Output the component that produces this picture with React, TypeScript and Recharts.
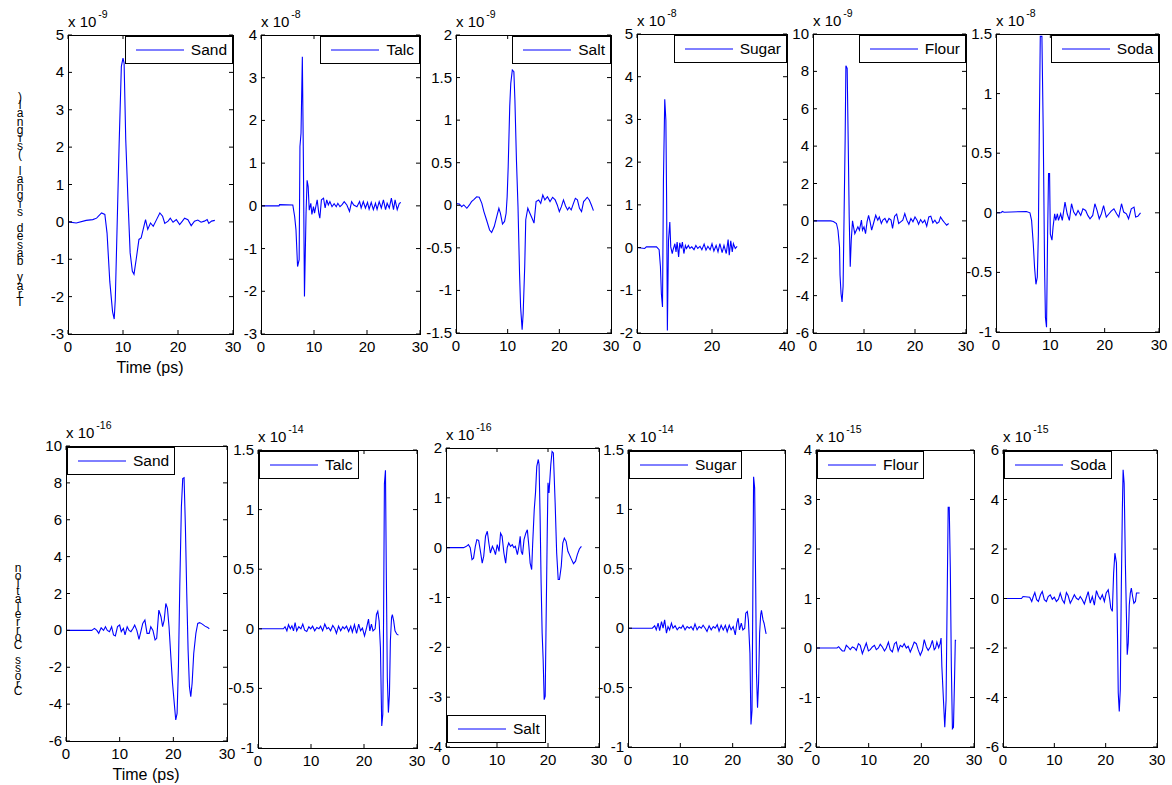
import React from 'react';
import { LineChart, Line, XAxis, YAxis } from 'recharts';

type P = [number, number][];

// ---------- data (time in ps, value in units of the panel's exponent) ----------
const sandSignal: P = [[0,0],[1.5,-0.03],[3.3,0.04],[4.5,0.06],[5.2,0.1],[6.1,0.24],[6.7,0.2],[7.1,-0.3],[7.6,-1.6],[8.1,-2.4],[8.4,-2.6],[8.6,-2.07],[8.9,-0.3],[9.3,2.1],[9.7,4.16],[10.0,4.38],[10.2,4.25],[10.5,2.2],[10.9,0.6],[11.3,-0.83],[11.7,-1.32],[12.0,-1.4],[12.4,-1.0],[12.9,-0.47],[13.3,-0.43],[13.8,-0.12],[14.1,0.06],[14.5,-0.2],[15.0,-0.03],[15.5,-0.12],[16.1,0.06],[16.7,0.24],[17.2,0.15],[17.6,-0.04],[18.2,0.02],[18.6,0.1],[19.1,-0.01],[19.7,0.06],[20.3,-0.07],[20.8,0.02],[21.2,0.1],[21.8,0.06],[22.4,-0.1],[23.0,0.02],[23.6,0.05],[24.2,-0.01],[24.8,0.02],[25.3,0.06],[25.6,-0.04],[26.1,0.02],[26.7,0.04]];
const talcSignal: P = [[0,0],[3.4,0],[3.5,0.03],[6.0,0.02],[6.35,-0.25],[6.6,-0.56],[6.9,-1.42],[7.2,-1.26],[7.35,1.39],[7.55,1.7],[7.8,3.49],[8.0,1.07],[8.2,-2.12],[8.5,-0.17],[8.7,0.6],[8.9,0.45],[9.1,-0.1],[9.4,0.06],[9.6,-0.2],[9.9,-0.02],[10.1,-0.17],[10.4,0.02],[10.6,0.14],[10.9,-0.17],[11.1,-0.29],[11.4,0.14],[11.8,0.18],[12.1,-0.05],[12.4,0.14],[12.7,0.02],[13.0,0.1],[13.4,-0.02],[13.8,0.05],[14.2,-0.02],[14.5,0.06],[14.9,-0.02],[15.3,0.03],[15.7,0.1],[16.2,0.02],[16.7,-0.13],[17.1,0.1],[17.5,0.02],[18.1,-0.02],[18.6,0.1],[18.9,-0.05],[19.3,0.1],[19.7,-0.05],[20.1,0.08],[20.4,-0.08],[20.8,0.08],[21.2,-0.09],[21.6,0.06],[21.9,-0.08],[22.3,0.1],[22.7,-0.05],[23.1,0.14],[23.5,-0.09],[23.8,0.06],[24.2,-0.05],[24.6,0.18],[25.0,-0.09],[25.3,0.14],[25.7,-0.09],[26.1,0.06],[26.4,0.08]];
const saltSignal: P = [[0,0.02],[0.65,0.016],[1.1,-0.016],[1.5,0.004],[2.1,-0.035],[2.6,0.004],[3.0,0.043],[3.5,0.07],[4.0,0.1],[4.5,0.094],[5.0,0.023],[5.4,-0.074],[5.9,-0.17],[6.5,-0.29],[6.9,-0.32],[7.4,-0.25],[7.9,-0.13],[8.3,-0.035],[8.6,-0.094],[9.0,-0.22],[9.4,-0.19],[9.7,-0.094],[9.9,0.1],[10.1,0.45],[10.4,1.16],[10.6,1.43],[10.9,1.59],[11.2,1.57],[11.4,1.24],[11.7,0.53],[12.0,-0.016],[12.3,-0.8],[12.5,-1.19],[12.8,-1.46],[13.0,-1.27],[13.3,-0.72],[13.5,-0.17],[13.9,-0.035],[14.3,-0.094],[14.7,-0.15],[15.1,-0.21],[15.5,0.043],[16.0,0.063],[16.4,0.023],[16.8,0.12],[17.2,0.063],[17.7,0.1],[18.2,0.043],[18.7,0.094],[19.2,0.063],[19.6,0.004],[20.0,-0.074],[20.4,-0.016],[20.8,0.063],[21.2,-0.008],[21.6,-0.055],[21.9,-0.023],[22.3,-0.055],[22.7,0.016],[23.1,0.082],[23.5,0.063],[23.9,-0.035],[24.3,-0.074],[24.7,0.043],[25.0,0.063],[25.4,0.094],[25.8,0.063],[26.2,0.004],[26.6,-0.063]];
const sugarSignal: P = [[0,0],[2.05,-0.02],[2.5,0.016],[5.2,0.016],[5.9,-0.05],[6.25,-0.45],[6.5,-1.08],[6.8,-1.39],[7.05,1.58],[7.4,3.47],[7.7,2.98],[7.9,1.1],[8.1,-1.94],[8.4,0.17],[8.75,0.6],[9.0,0.016],[9.4,-0.14],[9.6,-0.06],[10.1,0.09],[10.4,-0.1],[10.7,0.13],[11.1,-0.22],[11.4,0.11],[11.8,-0.02],[12.1,0.13],[12.5,-0.14],[12.9,0.05],[13.2,-0.02],[13.7,0.05],[14.1,-0.02],[14.6,0.016],[15.2,-0.05],[15.7,0.05],[16.2,-0.02],[16.8,0.03],[17.3,-0.05],[17.9,0.08],[18.4,-0.06],[18.9,0.03],[19.5,-0.05],[20.0,0.09],[20.5,-0.08],[21.1,0.05],[21.6,-0.1],[22.1,0.09],[22.7,-0.12],[23.2,0.05],[23.8,-0.14],[24.3,0.19],[24.6,-0.18],[25.0,0.16],[25.4,-0.1],[25.7,0.09],[26.2,-0.02],[26.7,0.03]];
const flourSignal: P = [[0,0],[3.5,0],[4.0,-0.03],[4.6,-0.14],[4.9,-0.5],[5.2,-1.4],[5.3,-2.9],[5.5,-3.9],[5.7,-4.34],[5.9,-3.5],[6.1,0.39],[6.3,4.3],[6.45,8.3],[6.7,8.16],[6.9,4.3],[7.1,0.2],[7.3,-2.46],[7.5,-1.04],[7.75,0],[7.95,-0.32],[8.2,-0.68],[8.5,-0.5],[8.8,-0.32],[9.1,-0.5],[9.5,0.04],[9.7,-0.5],[10.0,-0.32],[10.3,-0.68],[10.6,-0.05],[10.9,0.3],[11.2,-0.05],[11.5,-0.5],[11.9,-0.1],[12.3,0.3],[12.7,0.04],[13.0,0.21],[13.4,-0.14],[13.7,0.04],[14.1,0.13],[14.5,-0.1],[14.9,0.13],[15.3,0.04],[15.6,-0.4],[16.0,0.25],[16.4,0.36],[16.8,-0.14],[17.2,-0.05],[17.6,0.04],[18.0,0.39],[18.4,0.04],[18.8,-0.18],[19.2,0.13],[19.6,-0.05],[20.0,0.21],[20.4,0.04],[20.7,-0.18],[21.1,0.07],[21.5,-0.1],[21.9,0.04],[22.3,-0.29],[22.7,0.21],[23.1,0.25],[23.5,-0.1],[23.9,0.04],[24.3,-0.14],[24.7,-0.05],[25.0,0.21],[25.4,0.04],[25.8,-0.1],[26.2,-0.23],[26.6,-0.14]];
const sodaSignal: P = [[0,0],[0.9,0],[1.16,0.011],[1.5,0.005],[5.6,0.011],[6.25,0],[6.55,-0.064],[6.86,-0.26],[7.1,-0.46],[7.35,-0.6],[7.6,-0.54],[7.8,-0.18],[7.96,0.66],[8.15,1.48],[8.45,1.48],[8.7,0.66],[8.94,-0.46],[9.1,-0.88],[9.3,-0.96],[9.5,-0.18],[9.67,0.33],[9.86,0.33],[10.0,-0.18],[10.3,-0.23],[10.5,-0.12],[10.8,-0.008],[11.0,-0.064],[11.3,-0.008],[11.5,-0.064],[11.9,-0.008],[12.2,-0.064],[12.7,0.09],[13.1,-0.008],[13.5,-0.064],[13.9,0.076],[14.3,0.006],[14.7,-0.022],[15.1,0.02],[15.6,-0.022],[16.0,0.034],[16.5,0.02],[16.9,-0.022],[17.3,-0.05],[17.8,-0.022],[18.2,0.076],[18.6,0.02],[19.0,-0.05],[19.4,-0.008],[19.8,0.06],[20.3,-0.036],[20.8,-0.008],[21.2,0.014],[21.7,0.034],[22.2,-0.008],[22.6,-0.036],[23.1,0.076],[23.5,0.006],[24.0,-0.008],[24.4,-0.05],[24.9,0.034],[25.4,0.048],[25.7,-0.036],[26.1,-0.03],[26.6,0]];

const sandCorr: P = [[0,0],[4.8,0],[5.3,0.11],[5.75,0],[6.1,-0.16],[6.55,0.14],[7.0,0],[7.35,0.2],[7.7,0],[8.1,-0.07],[8.5,0.2],[8.85,-0.25],[9.2,-0.3],[9.6,0.2],[10.0,0.29],[10.3,-0.07],[10.7,0.11],[11.0,-0.25],[11.4,0.2],[11.75,0],[12.1,-0.07],[12.5,0.11],[12.8,0.29],[13.2,0],[13.6,-0.49],[14.0,0],[14.3,0.38],[14.7,0.56],[15.1,-0.16],[15.5,-0.16],[15.8,0.2],[16.2,0],[16.6,-0.52],[16.9,-0.43],[17.3,1.1],[17.7,0.74],[18.0,0.2],[18.3,0.56],[18.6,1.46],[18.9,1.2],[19.2,0.2],[19.5,-1.25],[19.85,-2.87],[20.2,-4.04],[20.45,-4.86],[20.7,-4.5],[20.95,-1.97],[21.2,2.36],[21.5,6.7],[21.75,8.23],[22.0,8.28],[22.25,5.6],[22.5,2.0],[22.75,-1.07],[23.0,-3.05],[23.25,-3.6],[23.5,-2.87],[23.8,-1.25],[24.2,-0.16],[24.55,0.38],[24.9,0.42],[25.4,0.34],[25.9,0.23],[26.4,0.16],[26.7,0.09]];
const talcCorr: P = [[0,0],[4.8,0],[5.1,0.017],[5.45,-0.017],[5.75,0.034],[6.1,0],[6.4,0.025],[6.7,-0.017],[7.0,0.053],[7.3,-0.017],[7.7,0.017],[8.1,0],[8.45,0.039],[8.8,-0.011],[9.2,-0.022],[9.6,0.017],[9.95,0],[10.3,0.022],[10.7,-0.017],[11.1,0.011],[11.5,0],[11.8,0.022],[12.2,-0.017],[12.6,0.039],[13.0,0],[13.3,0.011],[13.7,-0.017],[14.1,0.028],[14.5,0],[14.8,-0.039],[15.2,0.022],[15.6,-0.017],[16.0,0.017],[16.3,0],[16.7,0.022],[17.1,-0.022],[17.5,0.022],[17.8,-0.028],[18.2,0.034],[18.6,-0.039],[19.0,0.039],[19.35,-0.017],[19.7,0.006],[20.1,-0.059],[20.5,0.011],[20.85,0.081],[21.1,-0.017],[21.4,0.039],[21.7,-0.017],[22.1,0],[22.35,0.12],[22.6,0.146],[22.85,0.067],[23.1,-0.157],[23.35,-0.815],[23.55,-0.717],[23.7,0.123],[23.85,1.216],[24.05,1.33],[24.2,0.515],[24.4,-0.409],[24.6,-0.703],[24.8,-0.549],[24.98,-0.1],[25.2,0.095],[25.35,0.118],[25.6,0.067],[25.85,-0.017],[26.2,-0.045],[26.5,-0.053]];
const saltCorr: P = [[0,0],[3.45,0],[4.0,0.027],[4.4,0.06],[4.75,0],[5.1,-0.24],[5.4,-0.21],[5.75,0.027],[6.05,0.16],[6.4,0.147],[6.7,-0.04],[7.1,-0.31],[7.4,-0.17],[7.75,0.23],[8.1,0.33],[8.4,0.094],[8.7,-0.107],[9.1,0.027],[9.4,-0.04],[9.7,-0.14],[10.05,0.06],[10.4,-0.074],[10.7,0.29],[11.0,0.23],[11.35,-0.107],[11.7,-0.31],[12.0,0],[12.3,0.094],[12.65,0.027],[13.0,0.06],[13.3,0],[13.6,0.027],[14.0,-0.14],[14.3,0.027],[14.55,0.23],[14.75,-0.074],[15.0,-0.14],[15.3,0.16],[15.65,0.29],[15.95,0.36],[16.25,0.027],[16.5,-0.31],[16.8,-0.44],[17.0,0.094],[17.3,0.76],[17.55,1.1],[17.8,1.63],[18.1,1.77],[18.25,1.67],[18.45,0.63],[18.65,-0.71],[18.85,-1.71],[19.05,-2.25],[19.25,-3.05],[19.45,-2.98],[19.6,-1.71],[19.85,0.29],[20.0,1.3],[20.2,1.1],[20.55,1.67],[20.8,1.93],[21.05,1.9],[21.4,0.9],[21.7,-0.107],[22.0,-0.64],[22.25,-0.64],[22.6,-0.37],[22.9,0.094],[23.2,0.19],[23.55,0.127],[23.9,-0.074],[24.2,-0.14],[24.5,-0.21],[25.0,-0.32],[25.4,-0.27],[25.75,-0.14],[26.15,-0.027],[26.55,0.027]];
const sugarCorr: P = [[0,0],[4.65,0],[5.1,0.02],[5.4,-0.014],[5.75,0.042],[6.05,-0.02],[6.4,0.056],[6.7,0],[7.0,0.07],[7.35,-0.042],[7.65,0.014],[7.95,-0.014],[8.3,0.042],[8.6,0],[9.0,0.02],[9.4,-0.014],[9.8,0.008],[10.15,0],[10.5,0.025],[10.9,-0.014],[11.3,0.014],[11.7,0],[12.05,0.014],[12.45,-0.014],[12.8,0.036],[13.2,-0.014],[13.6,0.014],[14.0,0],[14.35,0.025],[14.75,0],[15.1,-0.028],[15.5,0.02],[15.9,-0.014],[16.3,0.014],[16.65,0],[17.05,0.03],[17.4,-0.025],[17.8,0.025],[18.2,-0.014],[18.6,0.025],[18.95,-0.03],[19.35,0.025],[19.7,-0.014],[20.1,0.014],[20.5,-0.056],[20.8,0.042],[21.05,0.084],[21.3,-0.014],[21.65,0.042],[21.95,-0.014],[22.3,0],[22.5,0.126],[22.8,0.14],[23.0,0.07],[23.3,-0.21],[23.5,-0.81],[23.7,-0.69],[23.85,0.24],[24.0,1.275],[24.2,1.18],[24.4,0.35],[24.55,-0.38],[24.75,-0.67],[24.95,-0.46],[25.15,-0.042],[25.35,0.112],[25.5,0.15],[25.8,0.07],[26.0,0.042],[26.3,-0.028],[26.4,-0.048]];
const flourCorr: P = [[0,0],[4.0,0],[4.3,0.027],[4.6,-0.013],[5.0,-0.06],[5.4,-0.06],[5.75,0.054],[6.1,0.02],[6.5,-0.034],[6.9,0.02],[7.3,0],[7.65,-0.047],[8.05,0.087],[8.4,0.054],[8.8,-0.114],[9.2,0],[9.55,0.1],[9.95,-0.06],[10.3,-0.034],[10.7,0.02],[11.1,0.054],[11.45,-0.034],[11.85,0],[12.2,0.074],[12.6,0.02],[13.0,-0.06],[13.35,0],[13.75,0.12],[14.1,-0.034],[14.5,-0.08],[14.9,0.087],[15.25,0.12],[15.6,-0.06],[16.0,0.054],[16.4,0.02],[16.75,0.087],[17.15,0],[17.5,0.034],[17.9,-0.08],[18.3,0.02],[18.65,0.12],[19.05,0.087],[19.4,-0.034],[19.8,-0.148],[20.2,-0.047],[20.55,0.168],[20.95,0.02],[21.3,-0.047],[21.7,0.02],[22.1,0.154],[22.45,-0.034],[22.7,0],[22.95,0.12],[23.3,0.007],[23.55,0.087],[23.75,0.2],[23.9,-0.38],[24.2,-1.05],[24.45,-1.6],[24.7,-1.05],[24.9,0.96],[25.1,2.84],[25.3,2.84],[25.5,1.63],[25.7,-0.38],[25.9,-1.63],[26.1,-1.6],[26.3,-0.65],[26.45,0.154],[26.6,0.154]];
const sodaCorr: P = [[0,0],[3.6,0],[3.9,0.08],[5.2,0.05],[5.6,-0.12],[5.9,0.08],[6.2,0.24],[6.55,-0.05],[6.9,-0.12],[7.3,0.15],[7.65,0.28],[8.05,-0.05],[8.45,-0.12],[8.8,0.08],[9.2,0.15],[9.6,-0.03],[10.0,0.05],[10.4,-0.12],[10.8,-0.03],[11.15,0.22],[11.55,-0.05],[11.95,-0.19],[12.35,0.24],[12.7,0.11],[13.1,-0.19],[13.5,-0.03],[13.9,0.15],[14.3,0.01],[14.7,-0.05],[15.05,0.08],[15.45,-0.05],[15.85,-0.22],[16.25,0.05],[16.6,0.28],[17.0,-0.19],[17.4,0.08],[17.8,-0.27],[18.2,0.32],[18.55,0.11],[18.95,-0.03],[19.35,0.15],[19.75,-0.12],[20.1,0.22],[20.5,0.35],[20.8,-0.05],[21.0,-0.39],[21.3,-0.52],[21.55,1.02],[21.8,1.83],[22.1,1.43],[22.3,-1.4],[22.45,-3.82],[22.65,-4.56],[22.85,-3.69],[23.05,0.48],[23.25,3.58],[23.4,5.2],[23.6,4.66],[23.85,1.29],[24.05,-0.73],[24.2,-2.27],[24.4,-1.8],[24.6,-0.26],[24.8,0.22],[25.0,0.42],[25.25,0.08],[25.5,-0.19],[25.8,-0.12],[26.0,0.22],[26.35,0.22],[26.6,0.22]];

// ---------- tick labels ----------
const X_TICKS_30 = [0, 10, 20, 30];
const X_TICKS_40 = [0, 20, 40];
const Y_SAND_SIG = [-3, -2, -1, 0, 1, 2, 3, 4, 5];
const Y_TALC_SIG = [-3, -2, -1, 0, 1, 2, 3, 4];
const Y_SALT_SIG = [-1.5, -1, -0.5, 0, 0.5, 1, 1.5, 2];
const Y_SUGAR_SIG = [-2, -1, 0, 1, 2, 3, 4, 5];
const Y_FLOUR_SIG = [-6, -4, -2, 0, 2, 4, 6, 8, 10];
const Y_SODA_SIG = [-1, -0.5, 0, 0.5, 1, 1.5];
const Y_SAND_COR = [-6, -4, -2, 0, 2, 4, 6, 8, 10];
const Y_TALC_COR = [-1, -0.5, 0, 0.5, 1, 1.5];
const Y_SALT_COR = [-4, -3, -2, -1, 0, 1, 2];
const Y_SUGAR_COR = [-1, -0.5, 0, 0.5, 1, 1.5];
const Y_FLOUR_COR = [-2, -1, 0, 1, 2, 3, 4];
const Y_SODA_COR = [-6, -4, -2, 0, 2, 4, 6];

const TOP_LABEL = 'Tray based signal (signal)';
const BOTTOM_LABEL = 'Cross Correlation';
const X_LABEL = 'Time (ps)';

// ---------- layout ----------
type Panel = {
  name: string; data: P; box: [number, number, number, number];
  xTicks: number[]; yTicks: number[]; exp: string; legend: 'tr' | 'tl' | 'bl';
};

const PANELS: Panel[] = [
  { name: 'Sand', data: sandSignal, box: [68, 35, 165, 299], xTicks: X_TICKS_30, yTicks: Y_SAND_SIG, exp: '-9', legend: 'tr' },
  { name: 'Talc', data: talcSignal, box: [261, 35, 159, 299], xTicks: X_TICKS_30, yTicks: Y_TALC_SIG, exp: '-8', legend: 'tr' },
  { name: 'Salt', data: saltSignal, box: [456, 35, 155, 298], xTicks: X_TICKS_30, yTicks: Y_SALT_SIG, exp: '-9', legend: 'tr' },
  { name: 'Sugar', data: sugarSignal, box: [637, 34, 150, 299], xTicks: X_TICKS_40, yTicks: Y_SUGAR_SIG, exp: '-8', legend: 'tr' },
  { name: 'Flour', data: flourSignal, box: [813, 34, 153, 299], xTicks: X_TICKS_30, yTicks: Y_FLOUR_SIG, exp: '-9', legend: 'tr' },
  { name: 'Soda', data: sodaSignal, box: [996, 34, 163, 298], xTicks: X_TICKS_30, yTicks: Y_SODA_SIG, exp: '-8', legend: 'tr' },
  { name: 'Sand', data: sandCorr, box: [66, 446, 161, 295], xTicks: X_TICKS_30, yTicks: Y_SAND_COR, exp: '-16', legend: 'tl' },
  { name: 'Talc', data: talcCorr, box: [258, 450, 159, 298], xTicks: X_TICKS_30, yTicks: Y_TALC_COR, exp: '-14', legend: 'tl' },
  { name: 'Salt', data: saltCorr, box: [446, 448, 153, 299], xTicks: X_TICKS_30, yTicks: Y_SALT_COR, exp: '-16', legend: 'bl' },
  { name: 'Sugar', data: sugarCorr, box: [628, 450, 157, 297], xTicks: X_TICKS_30, yTicks: Y_SUGAR_COR, exp: '-14', legend: 'tl' },
  { name: 'Flour', data: flourCorr, box: [816, 450, 158, 297], xTicks: X_TICKS_30, yTicks: Y_FLOUR_COR, exp: '-15', legend: 'tl' },
  { name: 'Soda', data: sodaCorr, box: [1003, 450, 154, 297], xTicks: X_TICKS_30, yTicks: Y_SODA_COR, exp: '-15', legend: 'tl' },
];

const FONT = '"Liberation Sans", Arial, Helvetica, sans-serif';
const BLUE = '#0000ff';
const FS = 15;
const ML = 50, MT = 30, MR = 12, MB = 30, TICK = 4;

function ChartPanel({ p }: { p: Panel }) {
  const [bx, by, bw, bh] = p.box;
  const xs = p.xTicks, ys = p.yTicks;
  const data = p.data.map(([t, v]) => ({ t, v }));
  const bottomY = MT + bh;
  const xTick = (props: any) => {
    const x = props.x;
    return (
      <g>
        <line x1={x} x2={x} y1={bottomY} y2={bottomY - TICK} stroke="#000" />
        <line x1={x} x2={x} y1={MT} y2={MT + TICK} stroke="#000" />
        <text x={x} y={bottomY + 18} textAnchor="middle" fontSize={FS} fontFamily={FONT} fill="#000">
          {String(props.payload.value)}
        </text>
      </g>
    );
  };
  const yTick = (props: any) => {
    const y = props.y;
    return (
      <g>
        <line x1={ML} x2={ML + TICK} y1={y} y2={y} stroke="#000" />
        <line x1={ML + bw} x2={ML + bw - TICK} y1={y} y2={y} stroke="#000" />
        <text x={ML - 4} y={y + 5} textAnchor="end" fontSize={FS} fontFamily={FONT} fill="#000">
          {String(props.payload.value)}
        </text>
      </g>
    );
  };
  let legendStyle: React.CSSProperties = {};
  if (p.legend === 'tr') legendStyle = { right: 0, top: 0 };
  else if (p.legend === 'tl') legendStyle = { left: 0, top: 0 };
  else legendStyle = { left: 0, bottom: 4 };
  return (
    <>
      <div style={{ position: 'absolute', left: bx - ML, top: by - MT }}>
        <LineChart width={ML + bw + MR} height={MT + bh + MB} data={data} margin={{ top: MT, right: MR, left: 0, bottom: 0 }}>
          <XAxis dataKey="t" type="number" domain={[xs[0], xs[xs.length - 1]]} ticks={xs} interval={0}
            axisLine={false} tickLine={false} height={MB} tick={xTick} allowDataOverflow />
          <YAxis type="number" domain={[ys[0], ys[ys.length - 1]]} ticks={ys} interval={0}
            axisLine={false} tickLine={false} width={ML} tick={yTick} allowDataOverflow />
          <Line type="linear" dataKey="v" stroke={BLUE} strokeWidth={1.1} dot={false} isAnimationActive={false} />
        </LineChart>
      </div>
      <div style={{ position: 'absolute', left: bx, top: by, width: bw + 1, height: bh + 1, border: '1px solid #000', boxSizing: 'border-box', pointerEvents: 'none' }}>
        <div style={{ position: 'absolute', ...legendStyle, height: 28, boxSizing: 'border-box', border: '1px solid #000', background: '#fff', display: 'flex', alignItems: 'center', padding: '0 5px 0 10px', whiteSpace: 'nowrap' }}>
          <svg width={48} height={4} style={{ marginRight: 7, display: 'block' }}>
            <line x1={0} x2={48} y1={2} y2={2} stroke={BLUE} strokeWidth={1} />
          </svg>
          <span style={{ fontSize: 15.5, fontFamily: FONT, color: '#000' }}>{p.name}</span>
        </div>
      </div>
    </>
  );
}

// Label drawn as upright letters stacked bottom-to-top (as in the reference): one text node.
function StackedLabel({ text, cx, top, spacing }: { text: string; cx: number; top: number; spacing: number }) {
  const fs = 12;
  const shown = text.split('').reverse().join('');
  return (
    <div style={{
      position: 'absolute', left: cx - fs / 2, top, width: fs,
      writingMode: 'vertical-rl', textOrientation: 'upright', fontFamily: FONT,
      fontSize: fs, lineHeight: `${fs}px`, letterSpacing: spacing, color: '#000', whiteSpace: 'nowrap',
    }}>
      {shown}
    </div>
  );
}

export default function App() {
  return (
    <div style={{ position: 'absolute', left: 0, top: 0, width: 1172, height: 785, background: '#fff', fontFamily: FONT, overflow: 'hidden' }}>
      {PANELS.map((p, i) => <ChartPanel key={i} p={p} />)}
      <svg width={1172} height={785} style={{ position: 'absolute', left: 0, top: 0, pointerEvents: 'none' }}>
        {PANELS.map((p, i) => (
          <text key={i} x={p.box[0]} y={p.box[1] - 8} fontSize={FS} fontFamily={FONT} fill="#000">
            x 10<tspan dx={2} dy={-9} fontSize={10.5}>{p.exp}</tspan>
          </text>
        ))}
        <text x={150} y={373} textAnchor="middle" fontSize={16} fontFamily={FONT} fill="#000">{X_LABEL}</text>
        <text x={146} y={780} textAnchor="middle" fontSize={16} fontFamily={FONT} fill="#000">{X_LABEL}</text>
      </svg>
      <StackedLabel text={TOP_LABEL} cx={20} top={90} spacing={-5.8} />
      <StackedLabel text={BOTTOM_LABEL} cx={18} top={561} spacing={-6.3} />
    </div>
  );
}
